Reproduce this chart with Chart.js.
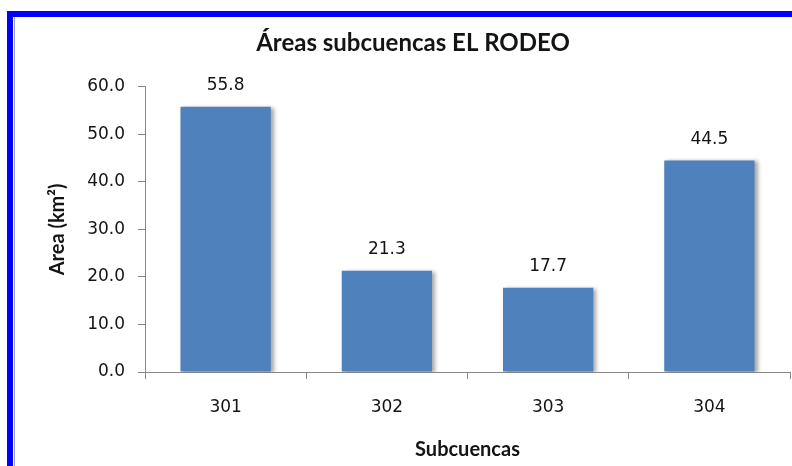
<!DOCTYPE html>
<html>
<head>
<meta charset="utf-8">
<script src="https://cdn.jsdelivr.net/npm/chart.js@4.4.1/dist/chart.umd.min.js"></script>
<style>
  html, body { margin: 0; padding: 0; background: #fff; }
  body { width: 792px; height: 466px; position: relative; overflow: hidden; }
  .frame-top  { position: absolute; left: 7px; top: 11px; width: 785px; height: 6px; background: #0000ff; }
  .frame-left { position: absolute; left: 7px; top: 11px; width: 6px; height: 455px; background: #0000ff; }
  .frame-edge { position: absolute; left: 14px; top: 17px; width: 1px; height: 449px; background: #a0a0a0; }
  #wrap { position: absolute; left: 36px; top: 0; width: 756px; height: 466px; }
</style>
</head>
<body>
<div class="frame-top"></div>
<div class="frame-left"></div>
<div class="frame-edge"></div>
<div id="wrap"><canvas id="chart-areas" width="756" height="466"></canvas></div>
<script>
// subcuencas del río El Rodeo
const SUBCUENCAS = ['301', '302', '303', '304'];
const AREAS_KM2  = [55.8, 21.3, 17.7, 44.5];
const Y_TICKS    = [0, 10, 20, 30, 40, 50, 60];

const BAR_BLUE  = '#4f81bd';
const AXIS_GRAY = '#868686';
const TEXT      = '#141414';
const FONT      = 'DejaVu Sans';
const FONT_BOLD = 'Lato';

// soft shadow on the right side of the columns
const barShadow = {
  id: 'barShadow',
  beforeDatasetsDraw(chart) {
    const c = chart.ctx;
    c.save();
    c.shadowColor = 'rgba(0,0,0,0.35)';
    c.shadowBlur = 4;
    c.shadowOffsetX = 3;
    c.shadowOffsetY = 1;
  },
  afterDatasetsDraw(chart) { chart.ctx.restore(); }
};

// value printed above every column
const barValues = {
  id: 'barValues',
  afterDatasetsDraw(chart) {
    const c = chart.ctx;
    const meta = chart.getDatasetMeta(0);
    c.save();
    c.font = '17px "' + FONT + '"';
    c.fillStyle = TEXT;
    c.textAlign = 'center';
    c.textBaseline = 'middle';
    meta.data.forEach((bar, i) => {
      c.fillText(AREAS_KM2[i].toFixed(1), bar.x, bar.y - 21);
    });
    c.restore();
  }
};

new Chart(document.getElementById('chart-areas').getContext('2d'), {
  type: 'bar',
  data: {
    labels: SUBCUENCAS,
    datasets: [{
      label: 'Area',
      data: AREAS_KM2,
      backgroundColor: BAR_BLUE,
      borderWidth: 0,
      barPercentage: 1,
      categoryPercentage: 0.56,
    }],
  },
  options: {
    responsive: false,
    animation: false,
    layout: { padding: { left: 0, right: 2, top: 0, bottom: 0 } },
    plugins: {
      legend: { display: false },
      tooltip: { enabled: false },
      title: {
        display: true,
        text: 'Áreas subcuencas EL RODEO',
        color: TEXT,
        font: { family: FONT_BOLD, size: 24, weight: 'bold', lineHeight: 1.2 },
        padding: { top: 29, bottom: 29 },
      },
    },
    scales: {
      x: {
        offset: true,
        grid: { display: true, drawOnChartArea: false, offset: true, tickLength: 7, color: AXIS_GRAY },
        border: { display: true, color: AXIS_GRAY, width: 1 },
        ticks: { color: TEXT, font: { family: FONT, size: 17 }, padding: 18, maxRotation: 0 },
        title: {
          display: true, text: 'Subcuencas', color: TEXT,
          font: { family: FONT_BOLD, size: 20, weight: 'bold', lineHeight: 1.2 },
          padding: { top: 0, bottom: 4 },
        },
        afterFit: s => { s.height = 94; },
      },
      y: {
        min: 0, max: 60,
        afterBuildTicks: s => { s.ticks = Y_TICKS.map(v => ({ value: v })); },
        grid: { display: true, drawOnChartArea: false, tickLength: 7, color: AXIS_GRAY },
        border: { display: true, color: AXIS_GRAY, width: 1 },
        ticks: {
          color: TEXT, font: { family: FONT, size: 17 }, padding: 13,
          callback: v => Number(v).toFixed(1),
        },
        title: {
          display: true, text: 'Area (km²)', color: TEXT,
          font: { family: FONT_BOLD, size: 20, weight: 'bold', lineHeight: 1.2 },
          padding: { top: 10, bottom: 0 },
        },
        afterFit: s => { s.width = 109; },
      },
    },
  },
  plugins: [barShadow, barValues],
});
</script>
</body>
</html>
